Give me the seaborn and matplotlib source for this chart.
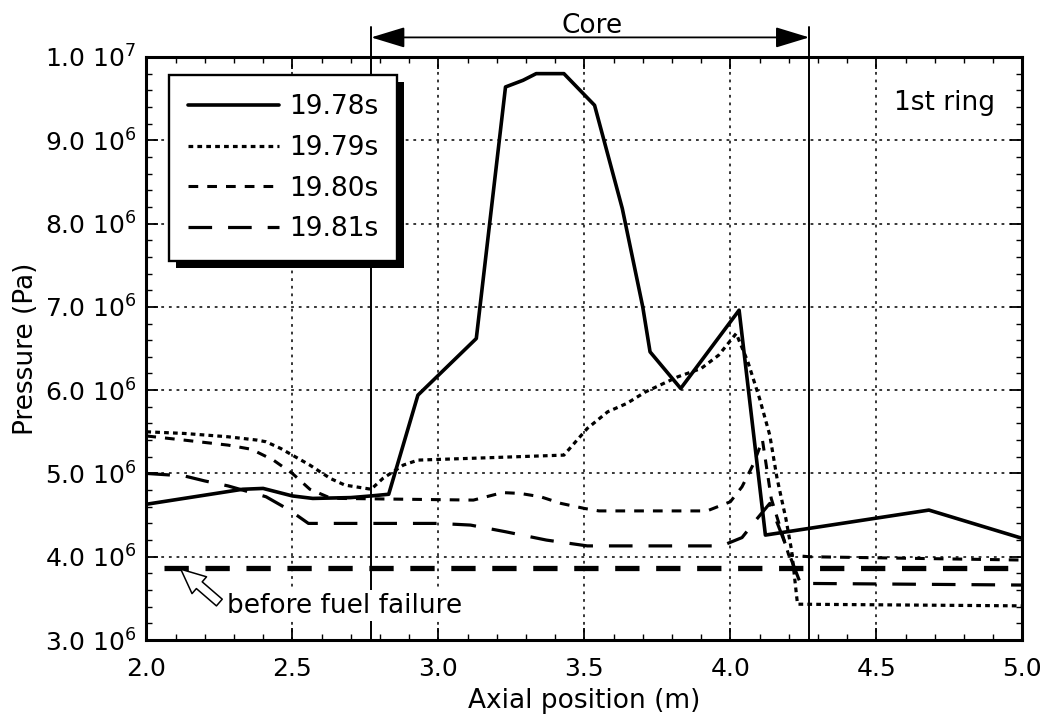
import matplotlib
matplotlib.use("Agg")
import matplotlib.pyplot as plt
import matplotlib.ticker as mticker
from matplotlib.patches import Rectangle
from matplotlib.transforms import IdentityTransform
import seaborn as sns

# ---------------- data ----------------
x_1978 = [2.00, 2.33, 2.40, 2.50, 2.57, 2.70, 2.77, 2.83, 2.93, 3.13, 3.23, 3.29, 3.335,
          3.43, 3.535, 3.63, 3.70, 3.725, 3.83, 4.03, 4.12, 4.68, 5.00]
p_1978 = [4.63e6, 4.81e6, 4.82e6, 4.73e6, 4.70e6, 4.71e6, 4.73e6, 4.75e6, 5.94e6, 6.62e6,
          9.64e6, 9.72e6, 9.80e6, 9.80e6, 9.42e6, 8.18e6, 7.00e6, 6.46e6, 6.02e6, 6.96e6,
          4.26e6, 4.56e6, 4.22e6]

x_1979 = [2.00, 2.13, 2.28, 2.38, 2.41, 2.46, 2.50, 2.56, 2.63, 2.68, 2.77, 2.81, 2.88,
          2.93, 3.10, 3.43, 3.45, 3.48, 3.51, 3.58, 3.645, 3.71, 3.82, 3.90, 3.96, 4.02,
          4.06, 4.10, 4.135, 4.16, 4.19, 4.21, 4.23, 5.00]
p_1979 = [5.50e6, 5.48e6, 5.44e6, 5.40e6, 5.38e6, 5.30e6, 5.22e6, 5.10e6, 4.94e6, 4.86e6,
          4.81e6, 4.94e6, 5.10e6, 5.16e6, 5.18e6, 5.22e6, 5.30e6, 5.42e6, 5.54e6, 5.74e6,
          5.84e6, 5.98e6, 6.16e6, 6.26e6, 6.42e6, 6.68e6, 6.34e6, 5.90e6, 5.46e6, 4.94e6,
          4.46e6, 4.07e6, 3.43e6, 3.41e6]

x_1980 = [2.00, 2.13, 2.28, 2.36, 2.435, 2.50, 2.56, 2.62, 2.66, 3.12, 3.22, 3.28, 3.35,
          3.42, 3.50, 3.55, 3.92, 4.00, 4.04, 4.08, 4.11, 4.14, 4.20, 4.27, 5.00]
p_1980 = [5.45e6, 5.40e6, 5.34e6, 5.29e6, 5.16e6, 5.00e6, 4.81e6, 4.72e6, 4.70e6, 4.68e6,
          4.77e6, 4.76e6, 4.72e6, 4.64e6, 4.58e6, 4.55e6, 4.55e6, 4.66e6, 4.84e6, 5.12e6,
          5.40e6, 4.70e6, 4.02e6, 4.00e6, 3.96e6]

x_1981 = [2.00, 2.13, 2.20, 2.28, 2.41, 2.49, 2.555, 3.00, 3.11, 3.23, 3.37, 3.51, 3.97,
          4.04, 4.09, 4.135, 4.24, 5.00]
p_1981 = [5.00e6, 4.97e6, 4.91e6, 4.85e6, 4.72e6, 4.56e6, 4.40e6, 4.40e6, 4.38e6, 4.30e6,
          4.20e6, 4.13e6, 4.13e6, 4.23e6, 4.45e6, 4.64e6, 3.68e6, 3.66e6]

x_before = [2.06, 5.00]
p_before = [3.87e6, 3.87e6]

labels = ["19.78s", "19.79s", "19.80s", "19.81s"]
core_start, core_end = 2.77, 4.27
x_ticks = [2.0, 2.5, 3.0, 3.5, 4.0, 4.5, 5.0]
y_ticks = [3e6, 4e6, 5e6, 6e6, 7e6, 8e6, 9e6, 1e7]
y_ticklabels = ["3.0 10$^{6}$", "4.0 10$^{6}$", "5.0 10$^{6}$", "6.0 10$^{6}$",
                "7.0 10$^{6}$", "8.0 10$^{6}$", "9.0 10$^{6}$", "1.0 10$^{7}$"]

# ---------------- style ----------------
sns.set_theme(style="ticks")
plt.rcParams["font.family"] = ["DejaVu Sans"]
plt.rcParams["lines.scale_dashes"] = False
plt.rcParams["mathtext.fontset"] = "dejavusans"
plt.rcParams["text.color"] = "black"
plt.rcParams["axes.labelcolor"] = "black"
plt.rcParams["xtick.color"] = "black"
plt.rcParams["ytick.color"] = "black"
FS = 19
TFS = 18

fig = plt.figure(figsize=(10.49, 7.24), dpi=100)
fig.patch.set_facecolor("white")
ax = fig.add_axes([0.1395, 0.1160, 0.8351, 0.8053])
ax.set_facecolor("white")

series = [
    (x_1978, p_1978, 2.6, "-"),
    (x_1979, p_1979, 2.3, (0, (3.4, 3.0))),
    (x_1980, p_1980, 2.2, (0, (7.0, 6.5))),
    (x_1981, p_1981, 2.3, (0, (17.0, 11.5))),
]
handles = []
for xs, ys, lw, ls in series:
    sns.lineplot(x=xs, y=ys, ax=ax, color="black", lw=lw, linestyle=ls,
                 sort=False, estimator=None, legend=False, zorder=3)
    handles.append(ax.lines[-1])

sns.lineplot(x=x_before, y=p_before, ax=ax, color="black", lw=3.8,
             linestyle=(0, (17.5, 12.0)), sort=False, estimator=None,
             legend=False, zorder=3)

# axes limits / ticks
ax.set_xlim(2.0, 5.0)
ax.set_ylim(3e6, 1e7)
ax.xaxis.set_major_locator(mticker.FixedLocator(x_ticks))
ax.xaxis.set_major_formatter(mticker.FormatStrFormatter("%.1f"))
ax.xaxis.set_minor_locator(mticker.MultipleLocator(0.1))
ax.yaxis.set_major_locator(mticker.FixedLocator(y_ticks))
ax.yaxis.set_major_formatter(mticker.FixedFormatter(y_ticklabels))
ax.yaxis.set_minor_locator(mticker.MultipleLocator(2e5))
ax.tick_params(which="both", direction="in", top=True, right=True, colors="black",
               labelsize=TFS)
ax.tick_params(which="major", length=8.5, width=1.3)
ax.tick_params(which="minor", length=4, width=1.0)
ax.tick_params(axis="x", which="major", pad=12)
ax.tick_params(axis="y", which="major", pad=7)
for s in ax.spines.values():
    s.set_linewidth(2.2)
    s.set_color("black")

ax.grid(True, which="major", color="black", linewidth=1.1,
        linestyle=(0, (2.0, 3.5)), zorder=1)
ax.set_axisbelow(True)

ax.set_xlabel("Axial position (m)", fontsize=FS, labelpad=5, color="black")
ax.set_ylabel("Pressure (Pa)", fontsize=FS, labelpad=4, color="black")

# core boundaries and arrow
for xc in (core_start, core_end):
    ax.axvline(xc, ymin=0, ymax=1.0515, color="black", lw=1.4, clip_on=False, zorder=2)
ax.annotate("", xy=(core_start, 1.0235e7), xytext=(core_end, 1.0235e7),
            xycoords="data", textcoords="data", annotation_clip=False,
            arrowprops=dict(arrowstyle="<|-|>,head_length=1.05,head_width=0.32",
                            color="black", lw=1.3, shrinkA=0, shrinkB=0,
                            mutation_scale=20))
ax.text(3.526, 1.0288e7, "Core", ha="center", va="baseline", fontsize=FS,
        color="black", clip_on=False)

ax.text(0.969, 0.909, "1st ring", transform=ax.transAxes, ha="right",
        va="baseline", fontsize=FS, color="black")

ax.text(2.275, 3.33e6, "before fuel failure", ha="left", va="baseline", fontsize=FS,
        color="black", zorder=4, bbox=dict(facecolor="white", edgecolor="none", pad=1.5))
ax.annotate("", xy=(2.118, 3.85e6), xytext=(2.25, 3.45e6),
            arrowprops=dict(arrowstyle="simple,head_length=1.1,head_width=1.0,tail_width=0.4",
                            fc="white", ec="black", lw=1.1, shrinkA=0, shrinkB=0,
                            mutation_scale=16), zorder=5)

leg = ax.legend(handles=handles, labels=labels, loc="upper left",
                bbox_to_anchor=(0.026, 0.969), borderaxespad=0, fontsize=FS,
                frameon=True, fancybox=False, edgecolor="black", framealpha=1,
                handlelength=3.45, handletextpad=0.38, labelspacing=0.56,
                borderpad=0.72)
leg.get_frame().set_linewidth(1.7)
leg.set_zorder(6)
for t in leg.get_texts():
    t.set_color("black")

fig.canvas.draw()
bb = leg.get_window_extent()
shadow = Rectangle((bb.x0 + 7, bb.y0 - 7), bb.width, bb.height,
                   transform=IdentityTransform(), facecolor="black",
                   edgecolor="none", zorder=5.9)
ax.add_artist(shadow)

fig.savefig("out.png", dpi=100, facecolor="white")
